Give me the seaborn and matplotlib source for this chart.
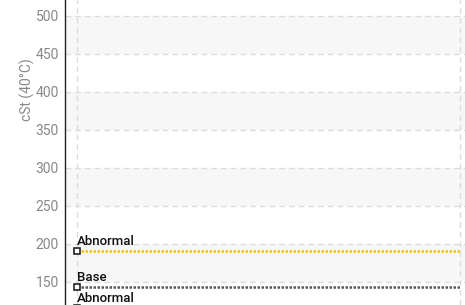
import matplotlib
matplotlib.use("Agg")
import numpy as np
import pandas as pd
import matplotlib.pyplot as plt
import seaborn as sns

# limit lines (viscosity, cSt at 40 C)
limit_names = ["Abnormal", "Base", "Abnormal"]
limit_values = [190, 143, 115]
limit_colors = ["#f5c300", "#5a5a5a", "#d9534f"]
span = [0, 1]

y_ticks = [150, 200, 250, 300, 350, 400, 450, 500]

sns.set_theme(style="white")
plt.rcParams["font.family"] = ["Roboto", "DejaVu Sans"]

fig = plt.figure(figsize=(4.65, 3.05), dpi=100)
ax = fig.add_axes([65 / 465, 0, 400 / 465, 1])

# alternating bands
for lo in range(150, 550, 100):
    ax.axhspan(lo, lo + 50, color="#f7f7f7", zorder=0, lw=0)

rows = []
for i, (name, val) in enumerate(zip(limit_names, limit_values)):
    for x in span:
        rows.append({"line": i, "x": x, "y": val})
df = pd.DataFrame(rows)

for i, (name, val, col) in enumerate(zip(limit_names, limit_values, limit_colors)):
    sub = df[df["line"] == i]
    sns.lineplot(data=sub, x="x", y="y", ax=ax, color=col, lw=1.8,
                 dashes=False, zorder=3)
    ax.lines[-1].set_dashes((1.0, 0.6))
    ax.plot(sub["x"].iloc[:1], sub["y"].iloc[:1], marker="s", ms=5,
            mfc="white", mec="#111111", mew=1.1, ls="none", zorder=4,
            clip_on=False)
    ax.text(0, val + 4, name, fontsize=9.5, color="#111111",
            fontweight="medium", ha="left", va="bottom", zorder=5)

ax.set_xlim(-0.031, 1.013)
ax.set_ylim(119.3, 521)
ax.set_yticks(y_ticks)
ax.set_xticks([])

ax.grid(False)
for yt in y_ticks:
    ax.axhline(yt, color="#dcdcdc", lw=1, ls=(0, (4, 3)), zorder=1)
for xv in span:
    ax.axvline(xv, color="#dcdcdc", lw=1, ls=(0, (4, 3)), zorder=1)

for s in ["top", "right", "bottom"]:
    ax.spines[s].set_visible(False)
ax.spines["left"].set_color("#222222")
ax.spines["left"].set_linewidth(1.0)
ax.tick_params(axis="y", direction="inout", length=5, width=1,
               color="#222222", labelcolor="#888888", labelsize=10, pad=2)

ax.set_xlabel("")
ax.set_ylabel("cSt (40°C)", color="#888888", fontsize=10)
ax.yaxis.set_label_coords(-0.075, 0.705)

fig.savefig("out.png", dpi=100)
